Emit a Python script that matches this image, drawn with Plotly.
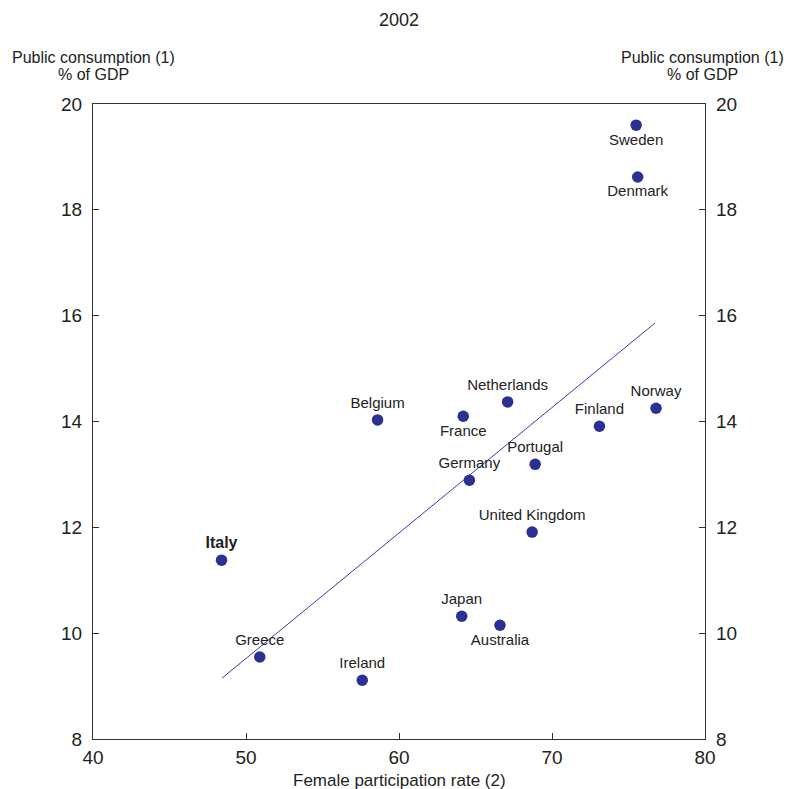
import plotly.graph_objects as go

countries = ["Sweden", "Denmark", "Norway", "Finland", "Netherlands", "France", "Belgium",
             "Portugal", "Germany", "United Kingdom", "Italy", "Japan", "Australia", "Greece", "Ireland"]
female_participation = [75.5, 75.6, 76.8, 73.1, 67.1, 64.2, 58.6, 68.9, 64.6, 68.7, 48.4, 64.1, 66.6, 50.9, 57.6]
public_consumption = [19.6, 18.62, 14.25, 13.91, 14.37, 14.10, 14.03, 13.19, 12.89, 11.91, 11.38, 10.32, 10.15, 9.55, 9.11]
label_pos = ["bottom center", "bottom center", "top center", "top center", "top center", "bottom center",
             "top center", "top center", "top center", "top center", "top center", "top center",
             "bottom center", "top center", "top center"]
labels = [f"<b><span style='font-size:16px'>{c}</span></b>" if c == "Italy" else c for c in countries]

trend_x = [48.43, 76.73]
trend_y = [9.15, 15.86]

FONT = "Liberation Sans, Arial, sans-serif"
DARK = "#222222"
BLUE = "#2b3192"
AX = "#333333"

W, H = 788, 789
L, R, T, B = 93, 83, 104, 50
PW = W - L - R
PH = H - T - B


def py(y_fig):
    return (H - B - y_fig) / PH


def px(x_fig):
    return (x_fig - L) / PW


fig = go.Figure()
fig.add_trace(go.Scatter(x=trend_x, y=trend_y, mode="lines",
                         line=dict(color="#3a3fa0", width=1), showlegend=False, hoverinfo="skip"))
fig.add_trace(go.Scatter(x=female_participation, y=public_consumption, mode="markers+text",
                         text=labels, textposition=label_pos,
                         textfont=dict(family=FONT, size=15, color=DARK),
                         marker=dict(color=BLUE, size=11.5), showlegend=False))
fig.add_trace(go.Scatter(x=[40], y=[8], yaxis="y2", mode="markers",
                         marker=dict(opacity=0), showlegend=False, hoverinfo="skip"))

axis_common = dict(showgrid=False, zeroline=False, showline=True, linecolor=AX, linewidth=1.3,
                   ticks="inside", ticklen=6, tickcolor=AX, tickfont=dict(size=19, color=DARK))

title_font = dict(size=16, color=DARK)
annotations = [
    dict(text="2002", xref="paper", yref="paper", x=0.5, y=py(20),
         showarrow=False, font=dict(size=18, color=DARK), xanchor="center", yanchor="middle"),
    dict(text="Female participation rate (2)", xref="paper", yref="paper", x=0.5,
         y=py(780), showarrow=False, font=dict(size=17, color=DARK),
         xanchor="center", yanchor="middle"),
]
for xc in (px(93), px(702)):
    annotations.append(dict(text="Public consumption (1)", xref="paper", yref="paper", x=xc, y=py(57),
                            showarrow=False, font=title_font, xanchor="center", yanchor="middle"))
    annotations.append(dict(text="% of GDP", xref="paper", yref="paper", x=xc, y=py(74),
                            showarrow=False, font=title_font, xanchor="center", yanchor="middle"))

fig.update_layout(
    width=W, height=H,
    margin=dict(l=L, r=R, t=T, b=B),
    paper_bgcolor="white", plot_bgcolor="white",
    font=dict(family=FONT, color=DARK),
    xaxis=dict(range=[40, 80], dtick=10, mirror=True, ticklabelstandoff=1, **axis_common),
    yaxis=dict(range=[8, 20], dtick=2, ticklabelstandoff=6, **axis_common),
    yaxis2=dict(range=[8, 20], dtick=2, overlaying="y", side="right", ticklabelstandoff=6, **axis_common),
    annotations=annotations,
)

fig.write_html("out.html", config={"displayModeBar": False},
               post_script="document.body.style.margin='0';document.body.style.overflow='hidden';")
